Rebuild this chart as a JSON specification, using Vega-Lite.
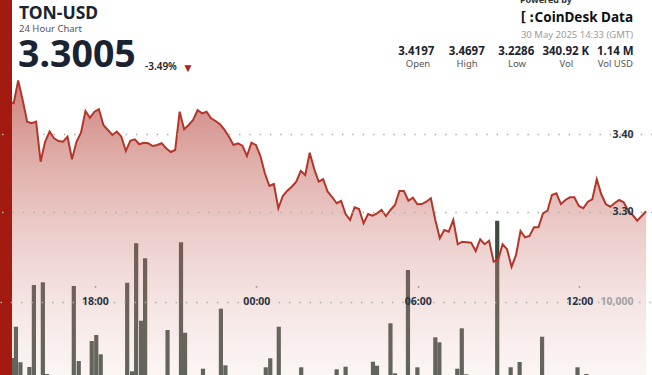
{
  "$schema": "https://vega.github.io/schema/vega-lite/v6.json",
  "width": 652,
  "height": 375,
  "padding": 0,
  "autosize": {"type": "none"},
  "background": "#ffffff",
  "config": {"view": {"stroke": null}, "font": "Noto Sans"},
  "data": {"values": [{}]},
  "datasets": {
    "price": [
      {"t":"2025-05-29T14:49:00Z","p":3.4420},{"t":"2025-05-29T14:59:00Z","p":3.4401},{"t":"2025-05-29T15:09:00Z","p":3.4697},{"t":"2025-05-29T15:19:00Z","p":3.4443},
      {"t":"2025-05-29T15:29:00Z","p":3.4163},{"t":"2025-05-29T15:39:00Z","p":3.4142},{"t":"2025-05-29T15:49:00Z","p":3.4163},{"t":"2025-05-29T15:59:00Z","p":3.3646},
      {"t":"2025-05-29T16:09:00Z","p":3.3904},{"t":"2025-05-29T16:19:00Z","p":3.4034},{"t":"2025-05-29T16:29:00Z","p":3.3948},{"t":"2025-05-29T16:39:00Z","p":3.3913},
      {"t":"2025-05-29T16:49:00Z","p":3.3904},{"t":"2025-05-29T16:59:00Z","p":3.3969},{"t":"2025-05-29T17:09:00Z","p":3.3677},{"t":"2025-05-29T17:19:00Z","p":3.3904},
      {"t":"2025-05-29T17:29:00Z","p":3.4021},{"t":"2025-05-29T17:39:00Z","p":3.4301},{"t":"2025-05-29T17:49:00Z","p":3.4214},{"t":"2025-05-29T17:59:00Z","p":3.4292},
      {"t":"2025-05-29T18:09:00Z","p":3.4323},{"t":"2025-05-29T18:19:00Z","p":3.4120},{"t":"2025-05-29T18:29:00Z","p":3.4056},{"t":"2025-05-29T18:39:00Z","p":3.3991},
      {"t":"2025-05-29T18:49:00Z","p":3.4034},{"t":"2025-05-29T18:59:00Z","p":3.3969},{"t":"2025-05-29T19:09:00Z","p":3.3784},{"t":"2025-05-29T19:19:00Z","p":3.3917},
      {"t":"2025-05-29T19:29:00Z","p":3.3935},{"t":"2025-05-29T19:39:00Z","p":3.3871},{"t":"2025-05-29T19:49:00Z","p":3.3891},{"t":"2025-05-29T19:59:00Z","p":3.3884},
      {"t":"2025-05-29T20:09:00Z","p":3.3849},{"t":"2025-05-29T20:19:00Z","p":3.3862},{"t":"2025-05-29T20:29:00Z","p":3.3884},{"t":"2025-05-29T20:39:00Z","p":3.3819},
      {"t":"2025-05-29T20:49:00Z","p":3.3771},{"t":"2025-05-29T20:59:00Z","p":3.3797},{"t":"2025-05-29T21:09:00Z","p":3.4292},{"t":"2025-05-29T21:19:00Z","p":3.4065},
      {"t":"2025-05-29T21:29:00Z","p":3.4120},{"t":"2025-05-29T21:39:00Z","p":3.4185},{"t":"2025-05-29T21:49:00Z","p":3.4314},{"t":"2025-05-29T21:59:00Z","p":3.4271},
      {"t":"2025-05-29T22:09:00Z","p":3.4292},{"t":"2025-05-29T22:19:00Z","p":3.4207},{"t":"2025-05-29T22:29:00Z","p":3.4172},{"t":"2025-05-29T22:39:00Z","p":3.4129},
      {"t":"2025-05-29T22:49:00Z","p":3.4056},{"t":"2025-05-29T22:59:00Z","p":3.3969},{"t":"2025-05-29T23:09:00Z","p":3.3862},{"t":"2025-05-29T23:19:00Z","p":3.3884},
      {"t":"2025-05-29T23:29:00Z","p":3.3853},{"t":"2025-05-29T23:39:00Z","p":3.3720},{"t":"2025-05-29T23:49:00Z","p":3.3891},{"t":"2025-05-29T23:59:00Z","p":3.3862},
      {"t":"2025-05-30T00:09:00Z","p":3.3720},{"t":"2025-05-30T00:19:00Z","p":3.3496},{"t":"2025-05-30T00:29:00Z","p":3.3332},{"t":"2025-05-30T00:39:00Z","p":3.3358},
      {"t":"2025-05-30T00:49:00Z","p":3.3044},{"t":"2025-05-30T00:59:00Z","p":3.3203},{"t":"2025-05-30T01:09:00Z","p":3.3271},{"t":"2025-05-30T01:19:00Z","p":3.3323},
      {"t":"2025-05-30T01:29:00Z","p":3.3388},{"t":"2025-05-30T01:39:00Z","p":3.3526},{"t":"2025-05-30T01:49:00Z","p":3.3474},{"t":"2025-05-30T01:59:00Z","p":3.3762},
      {"t":"2025-05-30T02:09:00Z","p":3.3552},{"t":"2025-05-30T02:19:00Z","p":3.3388},{"t":"2025-05-30T02:29:00Z","p":3.3419},{"t":"2025-05-30T02:39:00Z","p":3.3258},
      {"t":"2025-05-30T02:49:00Z","p":3.3190},{"t":"2025-05-30T02:59:00Z","p":3.3109},{"t":"2025-05-30T03:09:00Z","p":3.3138},{"t":"2025-05-30T03:19:00Z","p":3.2970},
      {"t":"2025-05-30T03:29:00Z","p":3.2893},{"t":"2025-05-30T03:39:00Z","p":3.3057},{"t":"2025-05-30T03:49:00Z","p":3.3035},{"t":"2025-05-30T03:59:00Z","p":3.2850},
      {"t":"2025-05-30T04:09:00Z","p":3.2970},{"t":"2025-05-30T04:19:00Z","p":3.2948},{"t":"2025-05-30T04:29:00Z","p":3.2979},{"t":"2025-05-30T04:39:00Z","p":3.3022},
      {"t":"2025-05-30T04:49:00Z","p":3.2944},{"t":"2025-05-30T04:59:00Z","p":3.3022},{"t":"2025-05-30T05:09:00Z","p":3.3087},{"t":"2025-05-30T05:19:00Z","p":3.3267},
      {"t":"2025-05-30T05:29:00Z","p":3.3267},{"t":"2025-05-30T05:39:00Z","p":3.3142},{"t":"2025-05-30T05:49:00Z","p":3.3181},{"t":"2025-05-30T05:59:00Z","p":3.3096},
      {"t":"2025-05-30T06:09:00Z","p":3.3099},{"t":"2025-05-30T06:19:00Z","p":3.3129},{"t":"2025-05-30T06:29:00Z","p":3.3173},{"t":"2025-05-30T06:39:00Z","p":3.2893},
      {"t":"2025-05-30T06:49:00Z","p":3.2656},{"t":"2025-05-30T06:59:00Z","p":3.2764},{"t":"2025-05-30T07:09:00Z","p":3.2742},{"t":"2025-05-30T07:19:00Z","p":3.2893},
      {"t":"2025-05-30T07:29:00Z","p":3.2579},{"t":"2025-05-30T07:39:00Z","p":3.2612},{"t":"2025-05-30T07:49:00Z","p":3.2605},{"t":"2025-05-30T07:59:00Z","p":3.2599},
      {"t":"2025-05-30T08:09:00Z","p":3.2492},{"t":"2025-05-30T08:19:00Z","p":3.2643},{"t":"2025-05-30T08:29:00Z","p":3.2580},{"t":"2025-05-30T08:39:00Z","p":3.2625},
      {"t":"2025-05-30T08:49:00Z","p":3.2354},{"t":"2025-05-30T08:59:00Z","p":3.2376},{"t":"2025-05-30T09:09:00Z","p":3.2579},{"t":"2025-05-30T09:19:00Z","p":3.2514},
      {"t":"2025-05-30T09:29:00Z","p":3.2286},{"t":"2025-05-30T09:39:00Z","p":3.2441},{"t":"2025-05-30T09:49:00Z","p":3.2751},{"t":"2025-05-30T09:59:00Z","p":3.2669},
      {"t":"2025-05-30T10:09:00Z","p":3.2686},{"t":"2025-05-30T10:19:00Z","p":3.2798},{"t":"2025-05-30T10:29:00Z","p":3.2798},{"t":"2025-05-30T10:39:00Z","p":3.2979},
      {"t":"2025-05-30T10:49:00Z","p":3.3013},{"t":"2025-05-30T10:59:00Z","p":3.3216},{"t":"2025-05-30T11:09:00Z","p":3.3238},{"t":"2025-05-30T11:19:00Z","p":3.3099},
      {"t":"2025-05-30T11:29:00Z","p":3.3151},{"t":"2025-05-30T11:39:00Z","p":3.3186},{"t":"2025-05-30T11:49:00Z","p":3.3186},{"t":"2025-05-30T11:59:00Z","p":3.3074},
      {"t":"2025-05-30T12:09:00Z","p":3.3044},{"t":"2025-05-30T12:19:00Z","p":3.3129},{"t":"2025-05-30T12:29:00Z","p":3.3160},{"t":"2025-05-30T12:39:00Z","p":3.3419},
      {"t":"2025-05-30T12:49:00Z","p":3.3225},{"t":"2025-05-30T12:59:00Z","p":3.3099},{"t":"2025-05-30T13:09:00Z","p":3.3065},{"t":"2025-05-30T13:19:00Z","p":3.3112},
      {"t":"2025-05-30T13:29:00Z","p":3.3151},{"t":"2025-05-30T13:39:00Z","p":3.3121},{"t":"2025-05-30T13:49:00Z","p":3.3013},{"t":"2025-05-30T13:59:00Z","p":3.2957},
      {"t":"2025-05-30T14:09:00Z","p":3.2884},{"t":"2025-05-30T14:19:00Z","p":3.2944},{"t":"2025-05-30T14:29:00Z","p":3.3005}
    ],
    "volume": [
      {"t":"2025-05-29T14:56:00Z","v":2319},{"t":"2025-05-29T15:04:00Z","v":6589},{"t":"2025-05-29T15:14:00Z","v":1733},{"t":"2025-05-29T15:34:00Z","v":1091},
      {"t":"2025-05-29T15:44:00Z","v":12278},{"t":"2025-05-29T16:04:00Z","v":12647},{"t":"2025-05-29T16:13:00Z","v":136},{"t":"2025-05-29T17:13:00Z","v":12142},
      {"t":"2025-05-29T17:24:00Z","v":1910},{"t":"2025-05-29T17:53:00Z","v":4638},{"t":"2025-05-29T18:03:00Z","v":5457},{"t":"2025-05-29T18:13:00Z","v":2824},
      {"t":"2025-05-29T19:12:00Z","v":12592},{"t":"2025-05-29T19:23:00Z","v":505},{"t":"2025-05-29T19:32:00Z","v":17967},{"t":"2025-05-29T19:43:00Z","v":7408},
      {"t":"2025-05-29T19:52:00Z","v":15921},{"t":"2025-05-29T20:42:00Z","v":6139},{"t":"2025-05-29T21:12:00Z","v":18104},{"t":"2025-05-29T21:21:00Z","v":5771},
      {"t":"2025-05-29T22:01:00Z","v":859},{"t":"2025-05-29T22:41:00Z","v":9045},{"t":"2025-05-29T22:51:00Z","v":1323},
      {"t":"2025-05-30T00:21:00Z","v":1050},{"t":"2025-05-30T00:31:00Z","v":2278},{"t":"2025-05-30T00:50:00Z","v":6589},{"t":"2025-05-30T01:40:00Z","v":1050},
      {"t":"2025-05-30T02:59:00Z","v":778},{"t":"2025-05-30T03:19:00Z","v":1132},{"t":"2025-05-30T04:20:00Z","v":1814},{"t":"2025-05-30T04:29:00Z","v":1269},
      {"t":"2025-05-30T04:59:00Z","v":7053},{"t":"2025-05-30T05:09:00Z","v":232},{"t":"2025-05-30T05:38:00Z","v":14325},{"t":"2025-05-30T05:59:00Z","v":1050},
      {"t":"2025-05-30T06:39:00Z","v":5143},{"t":"2025-05-30T06:48:00Z","v":4461},{"t":"2025-05-30T07:28:00Z","v":859},{"t":"2025-05-30T07:38:00Z","v":6371},
      {"t":"2025-05-30T07:48:00Z","v":95},{"t":"2025-05-30T08:57:00Z","v":21050},{"t":"2025-05-30T09:27:00Z","v":1050},{"t":"2025-05-30T09:47:00Z","v":1774},
      {"t":"2025-05-30T10:37:00Z","v":5225},{"t":"2025-05-30T11:56:00Z","v":1050},{"t":"2025-05-30T12:16:00Z","v":136}
    ]
  },
  "resolve": {"scale": {"y": "independent"}, "axis": {"y": "independent"}},
  "layer": [
    {
      "data": {"name": "volume"},
      "mark": {"type": "bar", "width": 4.2, "color": "#3f4a41"},
      "encoding": {
        "x": {
          "field": "t", "type": "temporal",
          "scale": {"type": "utc", "domain": [
            {"year": 2025, "month": "May", "date": 29, "hours": 14, "minutes": 39, "seconds": 36, "utc": true},
            {"year": 2025, "month": "May", "date": 30, "hours": 14, "minutes": 30, "seconds": 57, "utc": true}
          ]},
          "axis": {
            "values": [
              {"year": 2025, "month": "May", "date": 29, "hours": 18, "utc": true},
              {"year": 2025, "month": "May", "date": 30, "hours": 0, "utc": true},
              {"year": 2025, "month": "May", "date": 30, "hours": 6, "utc": true},
              {"year": 2025, "month": "May", "date": 30, "hours": 12, "utc": true}
            ],
            "format": "%H:%M", "orient": "bottom", "offset": -89.3, "domain": false,
            "tickSize": 1.5, "tickWidth": 1.5, "tickColor": "#8a8a8a",
            "labelPadding": 14.5, "labelBaseline": "middle", "labelFontSize": 10.5,
            "labelFontWeight": "bold", "labelColor": "#2b3340", "labelFlush": false,
            "labelOverlap": false, "title": null, "grid": false, "zindex": 1
          }
        },
        "y": {
          "field": "v", "type": "quantitative",
          "scale": {"domain": [0, 51160], "nice": false},
          "axis": {
            "orient": "left", "values": [10000], "labelExpr": "format(datum.value, ',.0f')", "grid": true,
            "gridColor": "#b0b0b0", "gridDash": [1.5, 8.8], "gridWidth": 1.3,
            "domain": false, "ticks": false, "labelAlign": "right", "labelPadding": -633,
            "labelColor": "#a3a3a3", "labelFontSize": 10.5, "labelFontWeight": "bold",
            "labelBaseline": "middle", "title": null, "zindex": 1
          }
        }
      }
    },
    {
      "data": {"name": "price"},
      "mark": {
        "type": "area",
        "color": {
          "gradient": "linear", "x1": 0, "y1": 0, "x2": 0, "y2": 1,
          "stops": [
            {"offset": 0, "color": "rgba(168,26,15,0.55)"},
            {"offset": 1, "color": "rgba(235,205,200,0.2)"}
          ]
        }
      },
      "encoding": {
        "x": {"field": "t", "type": "temporal"},
        "y": {
          "field": "p", "type": "quantitative",
          "scale": {"domain": [3.08902, 3.57351], "nice": false, "zero": false},
          "axis": {
            "orient": "right", "values": [3.3, 3.4], "format": ".2f", "grid": true,
            "gridColor": "#b0b0b0", "gridDash": [1.5, 8.8], "gridWidth": 1.3,
            "domain": false, "ticks": false, "labelAlign": "right", "labelPadding": -19,
            "labelColor": "#2b3340", "labelFontSize": 10.5, "labelFontWeight": "bold",
            "labelBaseline": "middle", "title": null, "zindex": 1
          }
        },
        "y2": {"datum": 3.08902}
      }
    },
    {
      "data": {"name": "price"},
      "mark": {"type": "line", "color": "#b3362a", "strokeWidth": 2},
      "encoding": {
        "x": {"field": "t", "type": "temporal"},
        "y": {
          "field": "p", "type": "quantitative",
          "scale": {"domain": [3.08902, 3.57351], "nice": false, "zero": false},
          "axis": null
        }
      }
    },
    {
      "mark": {"type": "rule", "color": "#a31b10", "strokeWidth": 14},
      "encoding": {
        "x": {"datum": {"year": 2025, "month": "May", "date": 29, "hours": 14, "minutes": 39, "seconds": 36, "utc": true}, "type": "temporal"}
      }
    },
    {"mark": {"type": "text", "text": "TON-USD", "x": 19, "y": 19, "align": "left", "baseline": "alphabetic", "fontSize": 17.5, "fontWeight": "bold", "color": "#1a2332"}},
    {"mark": {"type": "text", "text": "24 Hour Chart", "x": 19, "y": 32, "align": "left", "baseline": "alphabetic", "fontSize": 9.5, "color": "#555555"}},
    {"mark": {"type": "text", "text": "3.3005", "x": 18, "y": 67, "align": "left", "baseline": "alphabetic", "fontSize": 37.5, "fontWeight": "bold", "color": "#1a2332"}},
    {"mark": {"type": "text", "text": "-3.49%", "x": 145, "y": 70, "align": "left", "baseline": "alphabetic", "fontSize": 10, "fontWeight": 600, "color": "#222222"}},
    {"mark": {"type": "text", "text": "▼", "x": 188, "y": 71.5, "align": "center", "baseline": "alphabetic", "fontSize": 12, "color": "#b22315"}},
    {"mark": {"type": "text", "text": "Powered by", "x": 520, "y": 3, "align": "left", "baseline": "alphabetic", "fontSize": 9, "fontWeight": "bold", "color": "#333333"}},
    {"mark": {"type": "text", "text": "[:", "x": 519, "y": 22, "align": "left", "baseline": "alphabetic", "fontSize": 14, "fontWeight": "bold", "font": "DejaVu Sans Mono", "color": "#111111"}},
    {"mark": {"type": "text", "text": "CoinDesk Data", "x": 633, "y": 22, "align": "right", "baseline": "alphabetic", "fontSize": 13.5, "fontWeight": "bold", "color": "#111111"}},
    {"mark": {"type": "text", "text": "30 May 2025 14:33 (GMT)", "x": 633, "y": 38, "align": "right", "baseline": "alphabetic", "fontSize": 9.5, "color": "#9b9b9b"}},
    {"mark": {"type": "text", "text": "3.4197", "x": 416.3, "y": 55, "align": "center", "baseline": "alphabetic", "fontSize": 11.5, "fontWeight": "bold", "color": "#1c2430"}},
    {"mark": {"type": "text", "text": "3.4697", "x": 466.7, "y": 55, "align": "center", "baseline": "alphabetic", "fontSize": 11.5, "fontWeight": "bold", "color": "#1c2430"}},
    {"mark": {"type": "text", "text": "3.2286", "x": 516.2, "y": 55, "align": "center", "baseline": "alphabetic", "fontSize": 11.5, "fontWeight": "bold", "color": "#1c2430"}},
    {"mark": {"type": "text", "text": "340.92 K", "x": 565.8, "y": 55, "align": "center", "baseline": "alphabetic", "fontSize": 11.5, "fontWeight": "bold", "color": "#1c2430"}},
    {"mark": {"type": "text", "text": "1.14 M", "x": 615.3, "y": 55, "align": "center", "baseline": "alphabetic", "fontSize": 11.5, "fontWeight": "bold", "color": "#1c2430"}},
    {"mark": {"type": "text", "text": "Open", "x": 418, "y": 67, "align": "center", "baseline": "alphabetic", "fontSize": 9.5, "color": "#555555"}},
    {"mark": {"type": "text", "text": "High", "x": 467, "y": 67, "align": "center", "baseline": "alphabetic", "fontSize": 9.5, "color": "#555555"}},
    {"mark": {"type": "text", "text": "Low", "x": 517, "y": 67, "align": "center", "baseline": "alphabetic", "fontSize": 9.5, "color": "#555555"}},
    {"mark": {"type": "text", "text": "Vol", "x": 566.3, "y": 67, "align": "center", "baseline": "alphabetic", "fontSize": 9.5, "color": "#555555"}},
    {"mark": {"type": "text", "text": "Vol USD", "x": 615.3, "y": 67, "align": "center", "baseline": "alphabetic", "fontSize": 9.5, "color": "#555555"}}
  ]
}
